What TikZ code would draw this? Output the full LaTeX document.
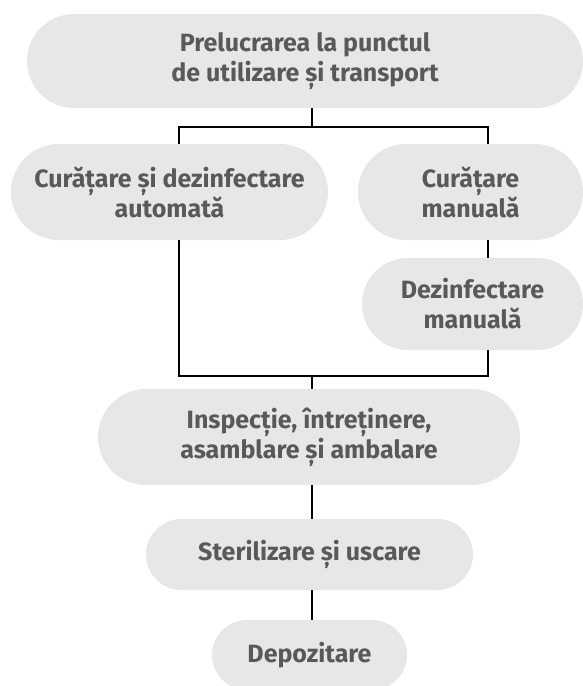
\documentclass[tikz,border=0pt]{standalone}
\usepackage{fontspec}
\setmainfont{Fira Sans}
\usepackage{tikz}
\usetikzlibrary{calc,shapes.misc}

\definecolor{boxgray}{HTML}{E6E7E8}
\definecolor{txtgray}{HTML}{58595B}

\begin{document}
\begin{tikzpicture}[x=1pt, y=-1pt,
        pill/.style={rounded rectangle, fill=boxgray, text=txtgray, inner sep=0pt,
            align=center, font=\bfseries\fontsize{25}{30}\selectfont},
        link/.style={draw=black, line width=2.4pt, line join=miter}]
        \useasboundingbox (0,0) rectangle (583,686);

        \coordinate (split) at (312, 127);
        \coordinate (merge) at (312, 376);
        \coordinate (colL) at (179, 0);
        \coordinate (colR) at (488, 0);

        \node[pill, minimum width=556pt, minimum height=94pt] (prel) at (305, 61)
            {Prelucrarea la punctul\\de utilizare și transport};
        \node[pill, minimum width=317pt, minimum height=96pt] (autom) at (169.5, 192)
            {Curățare și dezinfectare\\automată};
        \node[pill, minimum width=225pt, minimum height=96pt] (curman) at (470.5, 192)
            {Curățare\\manuală};
        \node[pill, minimum width=221pt, minimum height=92pt] (dezman) at (472.5, 304)
            {Dezinfectare\\manuală};
        \node[pill, minimum width=422pt, minimum height=96pt] (insp) at (309, 437)
            {Inspecție, întreținere,\\asamblare și ambalare};
        \node[pill, minimum width=327pt, minimum height=71pt] (steril) at (309.5, 554.5)
            {Sterilizare și uscare};
        \node[pill, minimum width=195pt, minimum height=70pt] (depoz) at (309.5, 655)
            {Depozitare};

        \draw[link] (split |- prel.south) -- (split);
        \draw[link] (colL |- autom.north) -- (colL |- split) -- (colR |- split) -- (colR |- curman.north);
        \draw[link] (colR |- curman.south) -- (colR |- dezman.north);
        \draw[link] (colL |- autom.south) -- (colL |- merge) -- (colR |- merge) -- (colR |- dezman.south);
        \draw[link] (merge) -- (merge |- insp.north);
        \draw[link] (merge |- insp.south) -- (merge |- steril.north);
        \draw[link] (merge |- steril.south) -- (merge |- depoz.north);
    \end{tikzpicture}
\end{document}
